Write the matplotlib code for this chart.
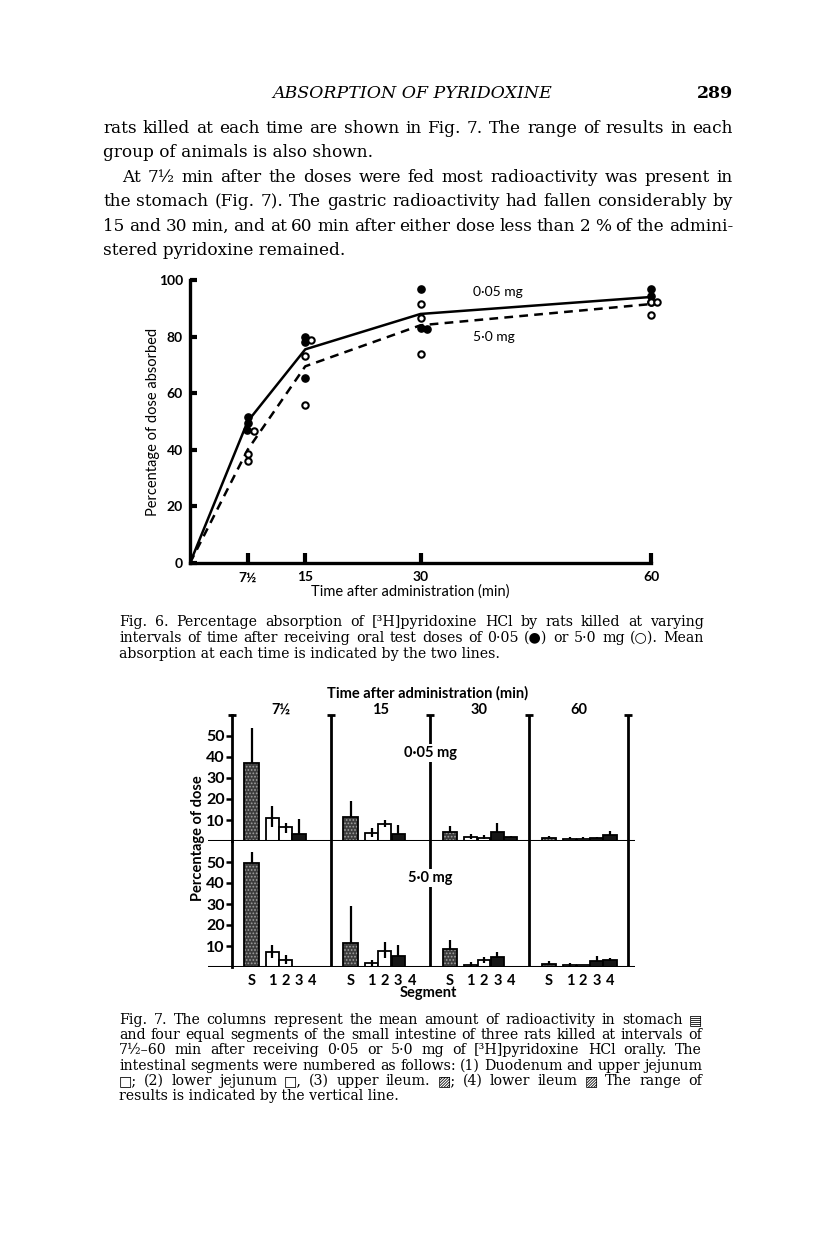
import matplotlib
matplotlib.use("Agg")
import matplotlib.pyplot as plt

W, H = 816, 1249

# ---- Fig. 6: % of dose absorbed (0.05 mg filled, 5.0 mg open)
low_x = [7.5, 7.5, 7.4, 15, 15, 15, 30, 30.8, 30, 60, 60, 60]
low_y = [51.5, 49.5, 47.0, 80.0, 78.0, 65.5, 96.8, 82.8, 83.0, 96.8, 94.4, 92.4]
high_x = [8.3, 7.5, 7.5, 15.8, 15, 15, 30, 30, 30, 60, 60.8, 60]
high_y = [46.8, 38.6, 36.2, 78.7, 73.0, 55.9, 91.6, 86.6, 73.7, 92.4, 92.4, 87.7]
mean_t = [0, 7.5, 15, 30, 60]
mean_low = [0, 50.0, 75.5, 88.0, 94.0]
mean_high = [0, 40.0, 69.5, 84.0, 91.5]
time_ticks = [7.5, 15, 30, 60]
time_labels = ['7½', '15', '30', '60']

# ---- Fig. 7: % of dose per segment, per time
panel_times = ['7½', '15', '30', '60']
segments = ['S', '1', '2', '3', '4']
low_mean = [[37.0, 10.8, 6.8, 3.3, 0.0],
            [11.3, 4.0, 7.9, 3.3, 0.0],
            [4.1, 2.1, 1.6, 4.4, 1.7],
            [1.3, 1.0, 1.0, 1.6, 2.9]]
low_hi = [[53.7, 16.8, 8.7, 10.3, 0.0],
          [19.2, 6.3, 10.0, 7.6, 0.0],
          [7.3, 3.2, 2.9, 8.4, 2.5],
          [2.2, 2.1, 2.0, 1.9, 4.9]]
low_lo = [[37.0, 6.8, 3.6, 3.3, 0.0],
          [11.3, 1.7, 6.8, 3.3, 0.0],
          [4.1, 1.0, 1.0, 4.4, 1.7],
          [1.3, 1.0, 1.0, 1.6, 2.9]]
high_mean = [[49.5, 7.0, 3.5, 0.0, 0.0],
             [11.4, 1.9, 7.5, 5.4, 0.0],
             [8.6, 1.1, 3.2, 4.8, 0.0],
             [1.4, 1.1, 0.8, 3.0, 3.5]]
high_hi = [[54.6, 10.3, 5.6, 0.0, 0.0],
           [28.9, 3.5, 11.7, 10.3, 0.0],
           [13.0, 2.2, 4.8, 7.0, 0.0],
           [2.7, 1.9, 0.8, 5.1, 4.3]]
high_lo = [[49.5, 4.3, 1.5, 0.0, 0.0],
           [11.4, 0.5, 4.3, 5.4, 0.0],
           [8.6, 0.5, 1.8, 4.8, 0.0],
           [1.4, 0.6, 0.8, 3.0, 3.5]]

body = [
    ("rats killed at each time are shown in Fig. 7. The range of results in each", 103, True),
    ("group of animals is also shown.", 103, False),
    ("At 7½ min after the doses were fed most radioactivity was present in", 122, True),
    ("the stomach (Fig. 7). The gastric radioactivity had fallen considerably by", 103, True),
    ("15 and 30 min, and at 60 min after either dose less than 2 % of the admini-", 103, True),
    ("stered pyridoxine remained.", 103, False),
]
cap6 = [
    ("Fig. 6.  Percentage absorption of [³H]pyridoxine HCl by rats killed at varying", True),
    ("intervals of time after receiving oral test doses of 0·05 (●) or 5·0 mg (○).  Mean", True),
    ("absorption at each time is indicated by the two lines.", False),
]
cap7 = [
    ("Fig. 7.  The columns represent the mean amount of radioactivity in stomach ▤", True),
    ("and four equal segments of the small intestine of three rats killed at intervals of", True),
    ("7½–60 min after receiving 0·05 or 5·0 mg of [³H]pyridoxine HCl orally. The", True),
    ("intestinal segments were numbered as follows: (1) Duodenum and upper jejunum", True),
    ("□; (2) lower jejunum □, (3) upper ileum.  ▨; (4) lower ileum ▨ The range of", True),
    ("results is indicated by the vertical line.", False),
]

SERIF = ['DejaVu Serif', 'DejaVu Sans']
SANS = ['Lato', 'DejaVu Sans']

fig = plt.figure(figsize=(W / 100, H / 100), dpi=100)
fig.patch.set_facecolor('white')
renderer = fig.canvas.get_renderer()


def put_line(text, x0, y, x1=None, size=11, **kw):
    # y is the baseline in pixels from the top; justify between x0 and x1
    if x1 is None:
        fig.text(x0 / W, 1 - y / H, text, fontsize=size, family=SERIF,
                 ha='left', va='baseline', **kw)
        return
    words = text.split()
    while True:
        arts = [fig.text(0, 1 - y / H, w, fontsize=size, family=SERIF,
                         ha='left', va='baseline', **kw) for w in words]
        widths = [a.get_window_extent(renderer).width for a in arts]
        gap = (x1 - x0 - sum(widths)) / (len(words) - 1)
        if gap >= size * 0.3 or size < 7:
            break
        for a in arts:
            a.remove()
        size -= 0.2
    x = x0
    for a, w in zip(arts, widths):
        a.set_x(x / W)
        x += w + gap


# header + body text
fig.text(412 / W, 1 - 98 / H, 'ABSORPTION OF PYRIDOXINE', fontsize=12.5,
         family=SERIF, style='italic', ha='center', va='baseline')
fig.text(733 / W, 1 - 98 / H, '289', fontsize=12.5, family=SERIF,
         ha='right', va='baseline', weight='bold')
for i, (txt, x0, just) in enumerate(body):
    put_line(txt, x0, 133 + 24.4 * i, 733 if just else None, size=12.2)

# ---------------- Fig. 6
ax6 = fig.add_axes([190 / W, 1 - 563 / H, 461 / W, 283 / H])
ax6.plot(mean_t, mean_low, color='black', lw=1.8, solid_joinstyle='miter')
ax6.plot(mean_t, mean_high, color='black', lw=1.8, ls=(0, (3.5, 2.5)))
ax6.plot(low_x, low_y, 'o', ms=5.2, color='black', clip_on=False)
ax6.plot(high_x, high_y, 'o', ms=4.6, mfc='white', mec='black', mew=1.5,
         clip_on=False)
ax6.set_xlim(0, 60)
ax6.set_ylim(0, 100)
ax6.spines[['top', 'right']].set_visible(False)
for s in ['left', 'bottom']:
    ax6.spines[s].set_linewidth(2.4)
ax6.set_xticks(time_ticks)
ax6.set_xticklabels(time_labels, family=SANS, fontsize=10, weight='bold')
ax6.set_yticks(range(0, 101, 20))
ax6.set_yticklabels([str(v) for v in range(0, 101, 20)], family=SANS,
                    fontsize=10, weight='bold')
ax6.tick_params(axis='x', direction='in', length=7, width=3, pad=6)
ax6.tick_params(axis='y', direction='in', length=5, width=3, pad=5)
ax6.patch.set_alpha(0)
fig.text(410 / W, 1 - 592 / H, 'Time after administration (min)', family=SANS,
         fontsize=10.5, ha='center', va='center')
fig.text(153 / W, 1 - 422 / H, 'Percentage of dose absorbed', family=SANS,
         fontsize=10.5, rotation=90, ha='center', va='center')
fig.text(473 / W, 1 - 292 / H, '0·05 mg', family=SANS, fontsize=10,
         ha='left', va='center')
fig.text(473 / W, 1 - 337 / H, '5·0 mg', family=SANS, fontsize=10,
         ha='left', va='center')

for i, (txt, just) in enumerate(cap6):
    put_line(txt, 119, 626 + 16 * i, 704 if just else None, size=10.2)

# ---------------- Fig. 7
seg_offset = [2.0, 4.1, 5.45, 6.8, 8.15]
seg_width = [1.45, 1.35, 1.3, 1.35, 1.35]
seg_face = ['#3c3c3c', 'white', 'white', '#161616', '#161616']
seg_hatch = ['.....', None, None, None, None]
plt.rcParams['hatch.linewidth'] = 0.8

x_left, x_right = -2.4, 40.7
px_per_unit = (628.3 - 231.7) / 40
ax_left = 231.7 + x_left * px_per_unit
ax_w = (x_right - x_left) * px_per_unit
ax_top = fig.add_axes([ax_left / W, 1 - 841 / H, ax_w / W, 126 / H])
ax_bot = fig.add_axes([ax_left / W, 1 - 967 / H, ax_w / W, 126 / H])

for ax, means, his, los in [(ax_top, low_mean, low_hi, low_lo),
                            (ax_bot, high_mean, high_hi, high_lo)]:
    ax.set_xlim(x_left, x_right)
    ax.set_ylim(0, 60)
    ax.patch.set_alpha(0)
    for p in range(4):
        base = 10 * p
        for k in range(5):
            xc = base + seg_offset[k]
            if means[p][k] > 0:
                if seg_hatch[k]:
                    ax.bar(xc, means[p][k], width=seg_width[k],
                           color=seg_face[k], edgecolor='#a0a0a0', lw=0,
                           hatch=seg_hatch[k], zorder=2)
                    ax.bar(xc, means[p][k], width=seg_width[k], fill=False,
                           edgecolor='black', lw=1.3, zorder=2)
                else:
                    ax.bar(xc, means[p][k], width=seg_width[k],
                           color=seg_face[k], edgecolor='black', lw=1.3,
                           zorder=2)
            if his[p][k] > means[p][k]:
                ax.vlines(xc, los[p][k], his[p][k], color='black', lw=1.6,
                          zorder=3)
    for xd in [10, 20, 30, 40]:
        ax.axvline(xd, color='black', lw=2.0, zorder=1)
    ax.axhline(0, color='black', lw=2.2, zorder=4)
    for s in ['top', 'right', 'bottom']:
        ax.spines[s].set_visible(False)
    ax.spines['left'].set_position(('data', 0))
    ax.spines['left'].set_linewidth(2.0)
    ax.set_yticks([10, 20, 30, 40, 50])
    ax.set_yticklabels(['10', '20', '30', '40', '50'], family=SANS,
                       fontsize=11.5, weight='bold')
    ax.tick_params(axis='y', direction='out', length=4, width=1.8, pad=1)

ax_top.plot([0, 10, 20, 30, 40], [60] * 5, '_', color='black', ms=6, mew=2,
            clip_on=False)
ax_top.set_xticks([])
ax_bot.set_xticks([10 * p + seg_offset[k] for p in range(4) for k in range(5)])
ax_bot.set_xticklabels(segments * 4, family=SANS, fontsize=10.5, weight='bold')
ax_bot.tick_params(axis='x', length=0, pad=5)

fig.text(428 / W, 1 - 693 / H, 'Time after administration (min)', family=SANS,
         fontsize=10.5, weight='bold', ha='center', va='center')
for p, lab in enumerate(panel_times):
    fig.text((231.7 + (10 * p + 5) * px_per_unit) / W, 1 - 710 / H, lab,
             family=SANS, fontsize=10.5, weight='bold', ha='center', va='center')
fig.text(430 / W, 1 - 753 / H, '0·05 mg', family=SANS, fontsize=10.5,
         weight='bold', ha='center', va='center',
         bbox=dict(facecolor='white', edgecolor='none', pad=1.5), zorder=5)
fig.text(430 / W, 1 - 878 / H, '5·0 mg', family=SANS, fontsize=10.5,
         weight='bold', ha='center', va='center',
         bbox=dict(facecolor='white', edgecolor='none', pad=1.5), zorder=5)
fig.text(198 / W, 1 - 838 / H, 'Percentage of dose', family=SANS,
         fontsize=10.5, weight='bold', rotation=90, ha='center', va='center')
fig.text(428 / W, 1 - 993 / H, 'Segment', family=SANS, fontsize=10.5,
         weight='bold', ha='center', va='center')

for i, (txt, just) in enumerate(cap7):
    put_line(txt, 119, 1024 + 15.2 * i, 702 if just else None, size=10.2)

fig.savefig('out.png', dpi=100, facecolor='white')
